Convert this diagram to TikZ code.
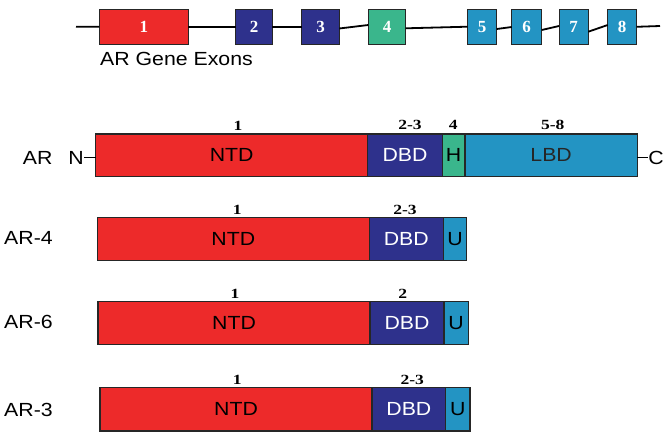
\documentclass[tikz,border=0pt]{standalone}
\usepackage{fontspec}
\setmainfont{Liberation Sans}
\newfontfamily\sansfnt[FakeStretch=1.12]{Liberation Sans}
\newfontfamily\exfnt{Liberation Serif}
\newfontfamily\lblfnt[FakeStretch=1.25]{Liberation Serif}
\definecolor{ntdred}{RGB}{237,42,42}
\definecolor{dbdblue}{RGB}{46,49,140}
\definecolor{lbdcyan}{RGB}{35,148,195}
\definecolor{hgreen}{RGB}{58,182,140}
\tikzset{
  dom/.style={draw=black!85, line width=1.3pt, inner sep=0pt, outer sep=0pt, anchor=west,
    font=\sansfnt\fontsize{19}{19}\selectfont},
  exon/.style={draw=black!85, line width=1pt, inner sep=0pt, outer sep=0pt, text=white,
    minimum height=35pt, font=\exfnt\bfseries\fontsize{17}{17}\selectfont},
  num/.style={font=\lblfnt\bfseries\fontsize{14}{14}\selectfont, inner sep=0pt},
  rowlab/.style={font=\sansfnt\fontsize{19}{19}\selectfont, inner sep=0pt, anchor=west},
  gline/.style={line width=1.8pt, black},
  tail/.style={line width=1.5pt, black}
}
\begin{document}
\begin{tikzpicture}[x=1pt,y=-1pt]
\useasboundingbox (0,0) rectangle (666,439);
% gene exons
\node[exon, fill=ntdred, minimum width=89pt] (e1) at (143.8,26.8) {1};
\node[exon, fill=dbdblue, minimum width=36.6pt] (e2) at (254,26.8) {2};
\node[exon, fill=dbdblue, minimum width=37.6pt] (e3) at (320.5,26.8) {3};
\node[exon, fill=hgreen, minimum width=37.4pt] (e4) at (387,26.8) {4};
\node[exon, fill=lbdcyan, minimum width=29pt] (e5) at (482.2,26.8) {5};
\node[exon, fill=lbdcyan, minimum width=30pt] (e6) at (526.7,26.8) {6};
\node[exon, fill=lbdcyan, minimum width=29.3pt] (e7) at (573.7,26.8) {7};
\node[exon, fill=lbdcyan, minimum width=29pt] (e8) at (622.2,26.8) {8};
\coordinate (gl) at (76,26.7);
\coordinate (gr) at (660,26);
\draw[gline] (gl) -- (e1.west);
\draw[gline] (e1.east) -- (e2.west);
\draw[gline] (e2.east) -- (e3.west);
\draw[gline] ([yshift=-1.7pt]e3.east) -- ([yshift=1.8pt]e4.west);
\draw[gline] ([yshift=-1.5pt]e4.east) -- ([yshift=0.1pt]e5.west);
\draw[gline] ([yshift=-2.2pt]e5.east) -- ([yshift=-0.2pt]e6.west);
\draw[gline] ([yshift=-3.2pt]e6.east) -- ([yshift=0.8pt]e7.west);
\draw[gline] ([yshift=-4.9pt]e7.east) -- ([yshift=1.8pt]e8.west);
\draw[gline] (e8.east) -- (gr);
\node[rowlab] (genelab) at (100,59) {AR Gene Exons};

% AR full length
\node[dom, fill=ntdred, minimum width=272pt, minimum height=42.7pt] (a1) at (95.7,155.35) {NTD};
\node[dom, fill=dbdblue, text=white, minimum width=74.6pt, minimum height=42.7pt] (a2) at (a1.east) {DBD};
\node[dom, fill=hgreen, minimum width=22.7pt, minimum height=42.7pt] (a3) at (a2.east) {H};
\node[dom, fill=lbdcyan, text=black!85, minimum width=172.3pt, minimum height=42.7pt] (a4) at (a3.east) {LBD};
\node[num] at (238,126.2) {1};
\node[num] at (410,125.2) {2-3};
\node[num] at (453.3,125.2) {4};
\node[num] at (552.7,125.2) {5-8};
\node[rowlab] (arlab) at (22.7,157.7) {AR};
\node[rowlab, inner sep=0.6pt] (nlab) at (67.5,157.7) {N};
\draw[tail] (nlab.east) -- (a1.west |- nlab.east);
\node[rowlab, inner sep=0.6pt] (clab) at (647.5,157.7) {C};
\draw[tail] (a4.east |- clab.west) -- (clab.west);

% AR-4
\node[dom, fill=ntdred, minimum width=272pt, minimum height=43.4pt] (b1) at (97.3,239) {NTD};
\node[dom, fill=dbdblue, text=white, minimum width=74pt, minimum height=43.4pt] (b2) at (b1.east) {DBD};
\node[dom, fill=lbdcyan, minimum width=23.4pt, minimum height=43.4pt] (b3) at (b2.east) {U};
\node[num] at (237.3,209.5) {1};
\node[num] at (405,209.5) {2-3};
\node[rowlab] (ar4) at (4,238.3) {AR-4};

% AR-6
\node[dom, fill=ntdred, minimum width=272pt, minimum height=42.6pt] (c1) at (98,323) {NTD};
\node[dom, fill=dbdblue, text=white, minimum width=74pt, minimum height=42.6pt] (c2) at (c1.east) {DBD};
\node[dom, fill=lbdcyan, minimum width=24.3pt, minimum height=42.6pt] (c3) at (c2.east) {U};
\node[num] at (235,293.5) {1};
\node[num] at (402.7,293.5) {2};
\node[rowlab] (ar6) at (4,321.7) {AR-6};

% AR-3
\node[dom, fill=ntdred, minimum width=272pt, minimum height=43.3pt] (d1) at (100,409.35) {NTD};
\node[dom, fill=dbdblue, text=white, minimum width=73.7pt, minimum height=43.3pt] (d2) at (d1.east) {DBD};
\node[dom, fill=lbdcyan, minimum width=24.3pt, minimum height=43.3pt] (d3) at (d2.east) {U};
\node[num] at (237.3,379.5) {1};
\node[num] at (412.3,379.5) {2-3};
\node[rowlab] (ar3) at (4,410) {AR-3};
\end{tikzpicture}
\end{document}
